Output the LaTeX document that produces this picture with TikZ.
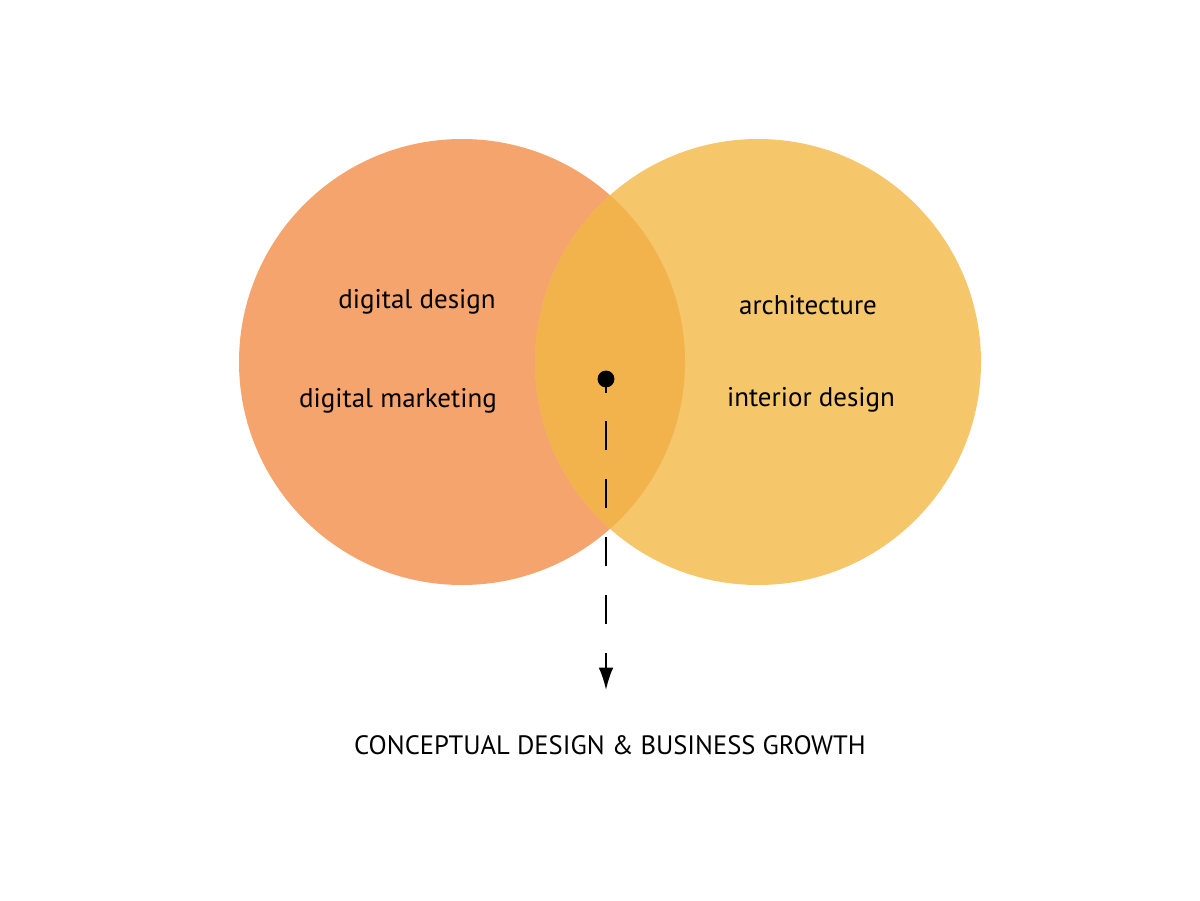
\documentclass[tikz,border=0pt]{standalone}
\usepackage{fontspec}
\setmainfont{PT Sans}
\usepackage{tikz}
\usetikzlibrary{arrows.meta}
\definecolor{leftorange}{HTML}{F4A46C}
\definecolor{rightyellow}{HTML}{F5C66A}
\definecolor{overlapgold}{HTML}{F2B24C}
\tikzset{
	fieldtext/.style={font=\fontsize{19.2}{22}\selectfont, text=black},
	titletext/.style={font=\fontsize{18.9}{22}\selectfont, text=black},
}

\begin{document}
\begin{tikzpicture}[x=0.025cm,y=-0.025cm]
			\useasboundingbox (0,0) rectangle (1200,900);
			
				% the two fields
				\fill[leftorange] (462,362) circle[radius=223];
				\fill[rightyellow] (758,362) circle[radius=223];
				\begin{scope}
					\clip (462,362) circle[radius=223];
					\fill[overlapgold] (758,362) circle[radius=223];
				\end{scope}
				
				\node[fieldtext] (ddesign) at (417,302) {digital design};
				\node[fieldtext] (dmarket) at (398,401) {digital marketing};
				\node[fieldtext] (arch) at (808,305) {architecture};
				\node[fieldtext] (interior) at (811,400) {interior design};
				
				% meeting point and result
				\node[circle, fill=black, inner sep=0pt, minimum size=12pt] (meet) at (606,379) {};
				\coordinate (tip) at (606,690);
				\node[titletext] (growth) at (610,745) {CONCEPTUAL DESIGN \& BUSINESS GROWTH};
				
				\draw[line width=1.4pt, dash pattern=on 20.6pt off 20.6pt, dash phase=11pt,
					-{Latex[length=16pt,width=10.5pt]}] (meet.center) -- (tip);
			\end{tikzpicture}
\end{document}
